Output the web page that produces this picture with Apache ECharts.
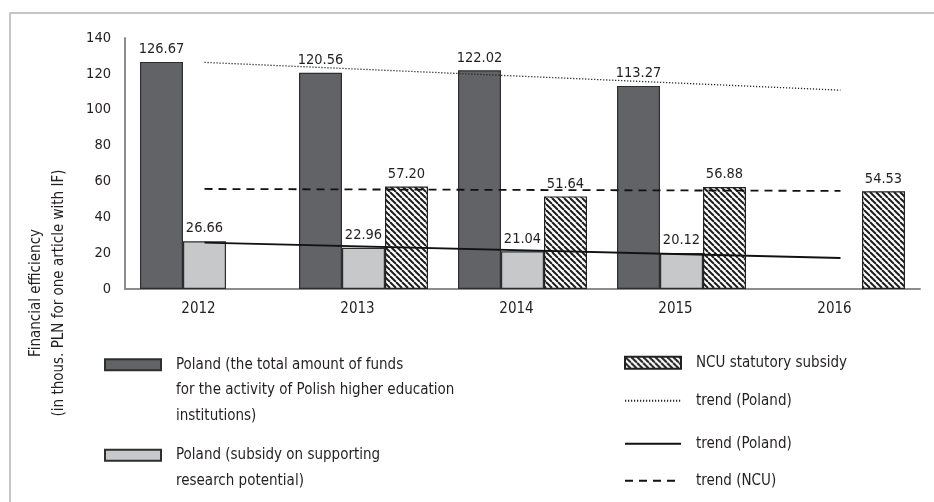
<!DOCTYPE html>
<html>
<head>
<meta charset="utf-8">
<script src="https://cdn.jsdelivr.net/npm/echarts@6/dist/echarts.min.js"></script>
<style>
  html, body { margin: 0; padding: 0; background: #fff; }
  #chart { width: 934px; height: 502px; }
</style>
</head>
<body>
<div id="chart"></div>
<script>
// data
const categories = ['2012', '2013', '2014', '2015', '2016'];
const polandTotal = [126.67, 120.56, 122.02, 113.27, null];
const polandSubsidy = [26.66, 22.96, 21.04, 20.12, null];
const ncuSubsidy = [null, 57.20, 51.64, 56.88, 54.53];
// trend lines: only the two ends are read, the line joins them
const trendPolandTotal = [126.4, null, null, null, 110.9];
const trendPolandSubsidy = [25.9, null, null, null, 17.3];
const trendNcu = [55.8, null, null, null, 54.7];
const yTicks = { min: 0, max: 140, interval: 20 };

const FONT = "'Liberation Sans Narrow', 'DejaVu Sans Condensed', sans-serif";
const TXT = '#231f20';

// hatch pattern for the NCU bars
const hatch = document.createElement('canvas');
hatch.width = 6;
hatch.height = 6;
const hc = hatch.getContext('2d');
hc.fillStyle = '#fff';
hc.fillRect(0, 0, 6, 6);
hc.strokeStyle = '#1e1e1e';
hc.lineWidth = 2;
[-6, 0, 6].forEach(function (x0) {
  hc.beginPath();
  hc.moveTo(x0, 0);
  hc.lineTo(x0 + 6, 6);
  hc.stroke();
});

const chart = echarts.init(document.getElementById('chart'));

const labelTop = {
  show: true,
  position: 'top',
  distance: 5,
  fontFamily: FONT,
  fontSize: 14.5,
  color: TXT,
  formatter: function (p) { return p.value == null ? '' : Number(p.value).toFixed(2); }
};

// one legend per entry; empty lines in front keep the icon level with the first text line
function legendBox(name, left, top, lines, extra) {
  return Object.assign({
    data: [name],
    left: left,
    top: top,
    padding: 0,
    itemWidth: 56,
    itemHeight: 11,
    selectedMode: false,
    formatter: function (n) { return '\n'.repeat(lines - 1) + n; },
    textStyle: {
      fontFamily: FONT,
      fontSize: 15,
      color: TXT,
      lineHeight: 25.5,
      padding: [0, 0, 0, 10]
    }
  }, extra || {});
}

const hideSymbol = { itemStyle: { opacity: 0 } };

chart.setOption({
  animation: false,
  backgroundColor: '#fff',
  grid: { left: 125, right: 14, top: 38, bottom: 213, containLabel: false },
  xAxis: {
    type: 'category',
    data: categories,
    axisLine: { lineStyle: { color: '#8c8c8c', width: 2 } },
    axisTick: { show: false },
    axisLabel: { fontFamily: FONT, fontSize: 15, color: TXT, margin: 13, padding: [0, 12, 0, 0] }
  },
  yAxis: {
    type: 'value',
    min: yTicks.min,
    max: yTicks.max,
    interval: yTicks.interval,
    splitLine: { show: false },
    axisLine: { show: true, lineStyle: { color: '#8c8c8c', width: 2 } },
    axisTick: { show: false },
    axisLabel: { fontFamily: FONT, fontSize: 14.5, color: TXT, margin: 14 }
  },
  legend: [
    legendBox('Poland (the total amount of funds\nfor the activity of Polish higher education\ninstitutions)', 104, 301, 3, { icon: 'rect' }),
    legendBox('Poland (subsidy on supporting\nresearch potential)', 104, 417, 2, { icon: 'rect' }),
    legendBox('NCU statutory subsidy', 624, 350, 1, { icon: 'rect', itemHeight: 12 }),
    legendBox('trend (Poland) ', 624, 388, 1, hideSymbol),
    legendBox('trend (Poland)', 624, 431, 1, hideSymbol),
    legendBox('trend (NCU)', 624, 468, 1, hideSymbol)
  ],
  graphic: [
    {
      type: 'rect',
      shape: { x: 10, y: 13, width: 960, height: 540 },
      style: { fill: 'none', stroke: '#b4b4b4', lineWidth: 1.5 },
      silent: true
    },
    {
      type: 'text',
      x: 48,
      y: 293,
      rotation: Math.PI / 2,
      style: {
        text: 'Financial efficiency\n(in thous. PLN for one article with IF)',
        fontFamily: FONT,
        fontSize: 15,
        lineHeight: 23,
        fill: TXT,
        align: 'center',
        verticalAlign: 'middle'
      }
    }
  ],
  series: [
    {
      name: 'Poland (the total amount of funds\nfor the activity of Polish higher education\ninstitutions)',
      type: 'bar',
      data: polandTotal,
      barWidth: 43,
      barGap: '0%',
      itemStyle: { color: '#626367', borderColor: '#2e2e2e', borderWidth: 1.2 },
      label: labelTop
    },
    {
      name: 'Poland (subsidy on supporting\nresearch potential)',
      type: 'bar',
      data: polandSubsidy,
      barWidth: 43,
      barGap: '0%',
      itemStyle: { color: '#c7c8ca', borderColor: '#2e2e2e', borderWidth: 1.2 },
      label: labelTop
    },
    {
      name: 'NCU statutory subsidy',
      type: 'bar',
      data: ncuSubsidy,
      barWidth: 43,
      barGap: '0%',
      itemStyle: { color: { image: hatch, repeat: 'repeat' }, borderColor: '#222', borderWidth: 1.2 },
      label: labelTop
    },
    {
      name: 'trend (Poland) ',
      type: 'line',
      data: trendPolandTotal,
      connectNulls: true,
      symbol: 'none',
      z: 5,
      lineStyle: { color: '#222', width: 1.3, type: [1.2, 1.8] }
    },
    {
      name: 'trend (Poland)',
      type: 'line',
      data: trendPolandSubsidy,
      connectNulls: true,
      symbol: 'none',
      z: 5,
      lineStyle: { color: '#111', width: 1.8 }
    },
    {
      name: 'trend (NCU)',
      type: 'line',
      data: trendNcu,
      connectNulls: true,
      symbol: 'none',
      z: 5,
      lineStyle: { color: '#111', width: 1.8, type: [8, 6] }
    }
  ]
});
</script>
</body>
</html>
